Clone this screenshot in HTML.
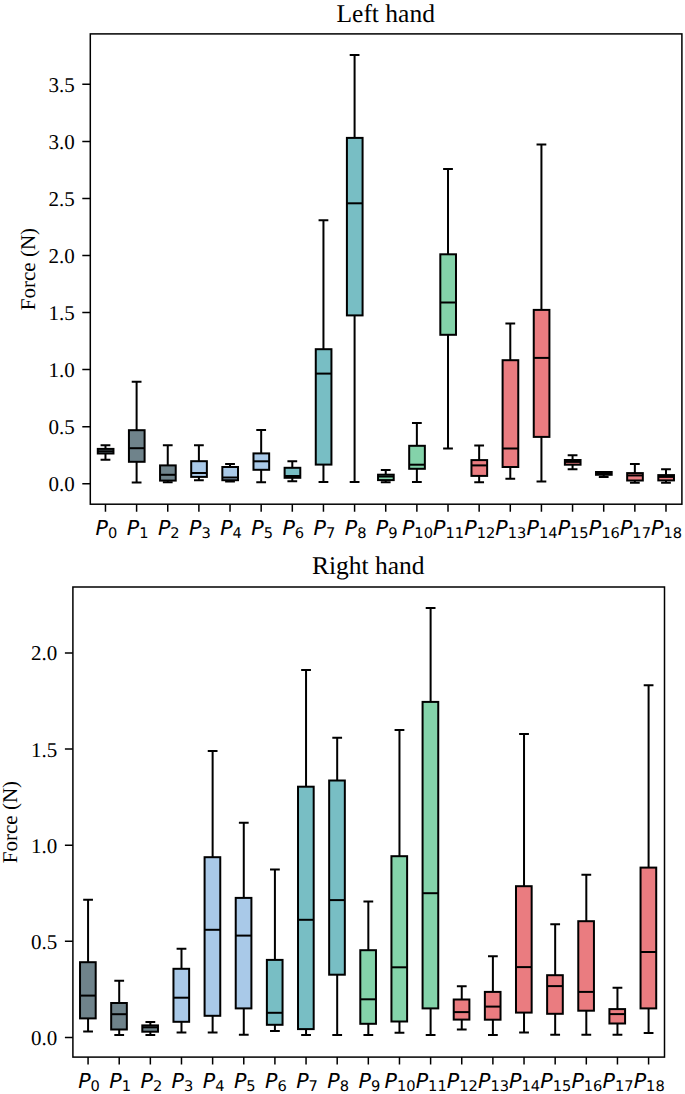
<!DOCTYPE html>
<html><head><meta charset="utf-8"><title>Force box plots</title>
<style>
html,body{margin:0;padding:0;background:#fff}
svg{display:block}
text{text-rendering:geometricPrecision}
.s{font-family:"Liberation Serif",serif;font-size:21.0px;fill:#000}
.t{font-family:"Liberation Serif",serif;font-size:25.5px;fill:#000}
.m{font-family:"DejaVu Sans",sans-serif;font-size:20.6px;fill:#000}
.i{font-style:italic}
.sub{font-size:14.63px}
</style></head><body>
<svg width="685" height="1094" viewBox="0 0 685 1094">
<rect width="685" height="1094" fill="#fff"/>
<g stroke="#000" stroke-width="2.0" fill="none">
<rect x="97.79" y="448.9" width="15.67" height="4.6" fill="#6F838B"/>
<path d="M105.47 448.9V445.2M105.47 453.5V459.8"/>
<path stroke-linecap="square" d="M101.58 445.2H109.36M101.58 459.8H109.36"/>
<path d="M97.79 451.3H113.45"/>
</g>
<g stroke="#000" stroke-width="2.0" fill="none">
<rect x="128.93" y="430.2" width="15.67" height="31.6" fill="#6F838B"/>
<path d="M136.61 430.2V381.7M136.61 461.8V482.4"/>
<path stroke-linecap="square" d="M132.72 381.7H140.5M132.72 482.4H140.5"/>
<path d="M128.93 448.2H144.6"/>
</g>
<g stroke="#000" stroke-width="2.0" fill="none">
<rect x="160.06" y="465.4" width="15.67" height="15.2" fill="#6F838B"/>
<path d="M167.75 465.4V445.2M167.75 480.6V482.2"/>
<path stroke-linecap="square" d="M163.86 445.2H171.64M163.86 482.2H171.64"/>
<path d="M160.06 474.8H175.74"/>
</g>
<g stroke="#000" stroke-width="2.0" fill="none">
<rect x="191.2" y="461.2" width="15.67" height="15.7" fill="#A9C9E8"/>
<path d="M198.89 461.2V445.2M198.89 476.9V480.3"/>
<path stroke-linecap="square" d="M195 445.2H202.78M195 480.3H202.78"/>
<path d="M191.2 473H206.88"/>
</g>
<g stroke="#000" stroke-width="2.0" fill="none">
<rect x="222.34" y="467" width="15.67" height="13.2" fill="#A9C9E8"/>
<path d="M230.03 467V463.9M230.03 480.2V481.6"/>
<path stroke-linecap="square" d="M226.14 463.9H233.92M226.14 481.6H233.92"/>
<path d="M222.34 477.5H238.02"/>
</g>
<g stroke="#000" stroke-width="2.0" fill="none">
<rect x="253.48" y="453.4" width="15.67" height="16.4" fill="#A9C9E8"/>
<path d="M261.17 453.4V430M261.17 469.8V482.2"/>
<path stroke-linecap="square" d="M257.28 430H265.06M257.28 482.2H265.06"/>
<path d="M253.48 461.3H269.15"/>
</g>
<g stroke="#000" stroke-width="2.0" fill="none">
<rect x="284.62" y="467.8" width="15.67" height="10" fill="#78BEC4"/>
<path d="M292.31 467.8V461.3M292.31 477.8V481.3"/>
<path stroke-linecap="square" d="M288.42 461.3H296.2M288.42 481.3H296.2"/>
<path d="M284.62 476H300.29"/>
</g>
<g stroke="#000" stroke-width="2.0" fill="none">
<rect x="315.77" y="349.2" width="15.67" height="115.4" fill="#78BEC4"/>
<path d="M323.45 349.2V220.3M323.45 464.6V481.9"/>
<path stroke-linecap="square" d="M319.56 220.3H327.34M319.56 481.9H327.34"/>
<path d="M315.77 373.6H331.44"/>
</g>
<g stroke="#000" stroke-width="2.0" fill="none">
<rect x="346.91" y="137.9" width="15.67" height="177.5" fill="#78BEC4"/>
<path d="M354.59 137.9V54.9M354.59 315.4V481.9"/>
<path stroke-linecap="square" d="M350.7 54.9H358.48M350.7 481.9H358.48"/>
<path d="M346.91 203.3H362.57"/>
</g>
<g stroke="#000" stroke-width="2.0" fill="none">
<rect x="378.05" y="474.7" width="15.67" height="5.4" fill="#84D3AA"/>
<path d="M385.73 474.7V470.1M385.73 480.1V482.2"/>
<path stroke-linecap="square" d="M381.84 470.1H389.62M381.84 482.2H389.62"/>
<path d="M378.05 476.5H393.71"/>
</g>
<g stroke="#000" stroke-width="2.0" fill="none">
<rect x="409.19" y="445.8" width="15.67" height="23" fill="#84D3AA"/>
<path d="M416.87 445.8V423.1M416.87 468.8V482.1"/>
<path stroke-linecap="square" d="M412.98 423.1H420.76M412.98 482.1H420.76"/>
<path d="M409.19 464.7H424.85"/>
</g>
<g stroke="#000" stroke-width="2.0" fill="none">
<rect x="440.32" y="254.3" width="15.67" height="80.5" fill="#84D3AA"/>
<path d="M448.01 254.3V169M448.01 334.8V448.5"/>
<path stroke-linecap="square" d="M444.12 169H451.9M444.12 448.5H451.9"/>
<path d="M440.32 302.5H455.99"/>
</g>
<g stroke="#000" stroke-width="2.0" fill="none">
<rect x="471.46" y="460.1" width="15.67" height="15.8" fill="#EA7C80"/>
<path d="M479.15 460.1V445.5M479.15 475.9V482.2"/>
<path stroke-linecap="square" d="M475.26 445.5H483.04M475.26 482.2H483.04"/>
<path d="M471.46 465.4H487.13"/>
</g>
<g stroke="#000" stroke-width="2.0" fill="none">
<rect x="502.6" y="360.2" width="15.67" height="106.8" fill="#EA7C80"/>
<path d="M510.29 360.2V323.5M510.29 467V478.8"/>
<path stroke-linecap="square" d="M506.4 323.5H514.18M506.4 478.8H514.18"/>
<path d="M502.6 448.5H518.27"/>
</g>
<g stroke="#000" stroke-width="2.0" fill="none">
<rect x="533.75" y="309.9" width="15.67" height="127" fill="#EA7C80"/>
<path d="M541.43 309.9V144.6M541.43 436.9V481.5"/>
<path stroke-linecap="square" d="M537.54 144.6H545.32M537.54 481.5H545.32"/>
<path d="M533.75 357.9H549.42"/>
</g>
<g stroke="#000" stroke-width="2.0" fill="none">
<rect x="564.88" y="460" width="15.67" height="4.7" fill="#EA7C80"/>
<path d="M572.57 460V455.2M572.57 464.7V469.3"/>
<path stroke-linecap="square" d="M568.68 455.2H576.46M568.68 469.3H576.46"/>
<path d="M564.88 461.9H580.56"/>
</g>
<g stroke="#000" stroke-width="2.0" fill="none">
<rect x="596.02" y="472" width="15.67" height="2.8" fill="#EA7C80"/>
<path d="M603.71 472V472.2M603.71 474.8V477"/>
<path stroke-linecap="square" d="M599.82 472.2H607.6M599.82 477H607.6"/>
<path d="M596.02 473.4H611.7"/>
</g>
<g stroke="#000" stroke-width="2.0" fill="none">
<rect x="627.16" y="473.1" width="15.67" height="7.4" fill="#EA7C80"/>
<path d="M634.85 473.1V463.9M634.85 480.5V482.8"/>
<path stroke-linecap="square" d="M630.96 463.9H638.74M630.96 482.8H638.74"/>
<path d="M627.16 475.45H642.84"/>
</g>
<g stroke="#000" stroke-width="2.0" fill="none">
<rect x="658.3" y="475.1" width="15.67" height="5.3" fill="#EA7C80"/>
<path d="M665.99 475.1V469.2M665.99 480.4V482.8"/>
<path stroke-linecap="square" d="M662.1 469.2H669.88M662.1 482.8H669.88"/>
<path d="M658.3 476.9H673.98"/>
</g>
<path d="M105.47 504.2v7.5M136.61 504.2v7.5M167.75 504.2v7.5M198.89 504.2v7.5M230.03 504.2v7.5M261.17 504.2v7.5M292.31 504.2v7.5M323.45 504.2v7.5M354.59 504.2v7.5M385.73 504.2v7.5M416.87 504.2v7.5M448.01 504.2v7.5M479.15 504.2v7.5M510.29 504.2v7.5M541.43 504.2v7.5M572.57 504.2v7.5M603.71 504.2v7.5M634.85 504.2v7.5M665.99 504.2v7.5M90.3 483.7h-8M90.3 426.65h-8M90.3 369.6h-8M90.3 312.55h-8M90.3 255.5h-8M90.3 198.45h-8M90.3 141.4h-8M90.3 84.35h-8" stroke="#000" stroke-width="1.5" fill="none"/>
<rect x="90.3" y="33.9" width="591.6" height="470.3" fill="none" stroke="#000" stroke-width="1.5"/>
<text class="s" x="74.7" y="491.1" text-anchor="end">0.0</text>
<text class="s" x="74.7" y="434.05" text-anchor="end">0.5</text>
<text class="s" x="74.7" y="377" text-anchor="end">1.0</text>
<text class="s" x="74.7" y="319.95" text-anchor="end">1.5</text>
<text class="s" x="74.7" y="262.9" text-anchor="end">2.0</text>
<text class="s" x="74.7" y="205.85" text-anchor="end">2.5</text>
<text class="s" x="74.7" y="148.8" text-anchor="end">3.0</text>
<text class="s" x="74.7" y="91.75" text-anchor="end">3.5</text>
<text class="m" x="106.47" y="534.9" text-anchor="middle"><tspan class="i">P</tspan><tspan class="sub" dy="3.0">0</tspan></text>
<text class="m" x="137.61" y="534.9" text-anchor="middle"><tspan class="i">P</tspan><tspan class="sub" dy="3.0">1</tspan></text>
<text class="m" x="168.75" y="534.9" text-anchor="middle"><tspan class="i">P</tspan><tspan class="sub" dy="3.0">2</tspan></text>
<text class="m" x="199.89" y="534.9" text-anchor="middle"><tspan class="i">P</tspan><tspan class="sub" dy="3.0">3</tspan></text>
<text class="m" x="231.03" y="534.9" text-anchor="middle"><tspan class="i">P</tspan><tspan class="sub" dy="3.0">4</tspan></text>
<text class="m" x="262.17" y="534.9" text-anchor="middle"><tspan class="i">P</tspan><tspan class="sub" dy="3.0">5</tspan></text>
<text class="m" x="293.31" y="534.9" text-anchor="middle"><tspan class="i">P</tspan><tspan class="sub" dy="3.0">6</tspan></text>
<text class="m" x="324.45" y="534.9" text-anchor="middle"><tspan class="i">P</tspan><tspan class="sub" dy="3.0">7</tspan></text>
<text class="m" x="355.59" y="534.9" text-anchor="middle"><tspan class="i">P</tspan><tspan class="sub" dy="3.0">8</tspan></text>
<text class="m" x="386.73" y="534.9" text-anchor="middle"><tspan class="i">P</tspan><tspan class="sub" dy="3.0">9</tspan></text>
<text class="m" x="417.47" y="534.9" text-anchor="middle"><tspan class="i">P</tspan><tspan class="sub" dy="3.0">10</tspan></text>
<text class="m" x="448.61" y="534.9" text-anchor="middle"><tspan class="i">P</tspan><tspan class="sub" dy="3.0">11</tspan></text>
<text class="m" x="479.75" y="534.9" text-anchor="middle"><tspan class="i">P</tspan><tspan class="sub" dy="3.0">12</tspan></text>
<text class="m" x="510.89" y="534.9" text-anchor="middle"><tspan class="i">P</tspan><tspan class="sub" dy="3.0">13</tspan></text>
<text class="m" x="542.03" y="534.9" text-anchor="middle"><tspan class="i">P</tspan><tspan class="sub" dy="3.0">14</tspan></text>
<text class="m" x="573.17" y="534.9" text-anchor="middle"><tspan class="i">P</tspan><tspan class="sub" dy="3.0">15</tspan></text>
<text class="m" x="604.31" y="534.9" text-anchor="middle"><tspan class="i">P</tspan><tspan class="sub" dy="3.0">16</tspan></text>
<text class="m" x="635.45" y="534.9" text-anchor="middle"><tspan class="i">P</tspan><tspan class="sub" dy="3.0">17</tspan></text>
<text class="m" x="666.59" y="534.9" text-anchor="middle"><tspan class="i">P</tspan><tspan class="sub" dy="3.0">18</tspan></text>
<text class="s" transform="translate(34.9 269.05) rotate(-90)" text-anchor="middle">Force (N)</text>
<text class="t" x="385.7" y="21.8" text-anchor="middle">Left hand</text>
<g stroke="#000" stroke-width="2.0" fill="none">
<rect x="80.03" y="962.2" width="15.67" height="56.2" fill="#6F838B"/>
<path d="M88.07 962.2V899.7M88.07 1018.4V1031.4"/>
<path stroke-linecap="square" d="M84.18 899.7H91.96M84.18 1031.4H91.96"/>
<path d="M80.03 995.6H95.7"/>
</g>
<g stroke="#000" stroke-width="2.0" fill="none">
<rect x="111.17" y="1003" width="15.67" height="26.5" fill="#6F838B"/>
<path d="M119.21 1003V980.8M119.21 1029.5V1034.9"/>
<path stroke-linecap="square" d="M115.32 980.8H123.1M115.32 1034.9H123.1"/>
<path d="M111.17 1014.2H126.84"/>
</g>
<g stroke="#000" stroke-width="2.0" fill="none">
<rect x="142.31" y="1025.4" width="15.67" height="6.3" fill="#6F838B"/>
<path d="M150.35 1025.4V1021.9M150.35 1031.7V1034.9"/>
<path stroke-linecap="square" d="M146.46 1021.9H154.24M146.46 1034.9H154.24"/>
<path d="M142.31 1027.3H157.99"/>
</g>
<g stroke="#000" stroke-width="2.0" fill="none">
<rect x="173.46" y="968.8" width="15.67" height="53" fill="#A9C9E8"/>
<path d="M181.49 968.8V948.7M181.49 1021.8V1032.6"/>
<path stroke-linecap="square" d="M177.6 948.7H185.38M177.6 1032.6H185.38"/>
<path d="M173.46 997.7H189.13"/>
</g>
<g stroke="#000" stroke-width="2.0" fill="none">
<rect x="204.59" y="857.2" width="15.67" height="158.6" fill="#A9C9E8"/>
<path d="M212.63 857.2V751.1M212.63 1015.8V1032.4"/>
<path stroke-linecap="square" d="M208.74 751.1H216.52M208.74 1032.4H216.52"/>
<path d="M204.59 929.8H220.27"/>
</g>
<g stroke="#000" stroke-width="2.0" fill="none">
<rect x="235.73" y="897.9" width="15.67" height="110.5" fill="#A9C9E8"/>
<path d="M243.77 897.9V822.7M243.77 1008.4V1034.8"/>
<path stroke-linecap="square" d="M239.88 822.7H247.66M239.88 1034.8H247.66"/>
<path d="M235.73 935.6H251.41"/>
</g>
<g stroke="#000" stroke-width="2.0" fill="none">
<rect x="266.88" y="959.9" width="15.67" height="64.9" fill="#78BEC4"/>
<path d="M274.91 959.9V869.5M274.91 1024.8V1031"/>
<path stroke-linecap="square" d="M271.02 869.5H278.8M271.02 1031H278.8"/>
<path d="M266.88 1012.8H282.54"/>
</g>
<g stroke="#000" stroke-width="2.0" fill="none">
<rect x="298.02" y="786.7" width="15.67" height="242.4" fill="#78BEC4"/>
<path d="M306.05 786.7V670.1M306.05 1029.1V1035"/>
<path stroke-linecap="square" d="M302.16 670.1H309.94M302.16 1035H309.94"/>
<path d="M298.02 919.8H313.69"/>
</g>
<g stroke="#000" stroke-width="2.0" fill="none">
<rect x="329.16" y="780.5" width="15.67" height="194.2" fill="#78BEC4"/>
<path d="M337.19 780.5V737.8M337.19 974.7V1035"/>
<path stroke-linecap="square" d="M333.3 737.8H341.08M333.3 1035H341.08"/>
<path d="M329.16 900.1H344.82"/>
</g>
<g stroke="#000" stroke-width="2.0" fill="none">
<rect x="360.3" y="950.2" width="15.67" height="73.6" fill="#84D3AA"/>
<path d="M368.33 950.2V901.6M368.33 1023.8V1035"/>
<path stroke-linecap="square" d="M364.44 901.6H372.22M364.44 1035H372.22"/>
<path d="M360.3 999.3H375.96"/>
</g>
<g stroke="#000" stroke-width="2.0" fill="none">
<rect x="391.44" y="856.2" width="15.67" height="165.3" fill="#84D3AA"/>
<path d="M399.47 856.2V730M399.47 1021.5V1032.8"/>
<path stroke-linecap="square" d="M395.58 730H403.36M395.58 1032.8H403.36"/>
<path d="M391.44 967.3H407.1"/>
</g>
<g stroke="#000" stroke-width="2.0" fill="none">
<rect x="422.58" y="701.9" width="15.67" height="306.5" fill="#84D3AA"/>
<path d="M430.61 701.9V608.1M430.61 1008.4V1034.9"/>
<path stroke-linecap="square" d="M426.72 608.1H434.5M426.72 1034.9H434.5"/>
<path d="M422.58 893.2H438.25"/>
</g>
<g stroke="#000" stroke-width="2.0" fill="none">
<rect x="453.72" y="999.5" width="15.67" height="20.1" fill="#EA7C80"/>
<path d="M461.75 999.5V986.2M461.75 1019.6V1029.5"/>
<path stroke-linecap="square" d="M457.86 986.2H465.64M457.86 1029.5H465.64"/>
<path d="M453.72 1012.1H469.38"/>
</g>
<g stroke="#000" stroke-width="2.0" fill="none">
<rect x="484.86" y="991.9" width="15.67" height="27.8" fill="#EA7C80"/>
<path d="M492.89 991.9V956.3M492.89 1019.7V1035"/>
<path stroke-linecap="square" d="M489 956.3H496.78M489 1035H496.78"/>
<path d="M484.86 1006.6H500.52"/>
</g>
<g stroke="#000" stroke-width="2.0" fill="none">
<rect x="515.99" y="886.2" width="15.67" height="126.4" fill="#EA7C80"/>
<path d="M524.03 886.2V733.9M524.03 1012.6V1032.5"/>
<path stroke-linecap="square" d="M520.14 733.9H527.92M520.14 1032.5H527.92"/>
<path d="M515.99 967.1H531.66"/>
</g>
<g stroke="#000" stroke-width="2.0" fill="none">
<rect x="547.13" y="975.2" width="15.67" height="38.6" fill="#EA7C80"/>
<path d="M555.17 975.2V924.2M555.17 1013.8V1034.7"/>
<path stroke-linecap="square" d="M551.28 924.2H559.06M551.28 1034.7H559.06"/>
<path d="M547.13 986.1H562.81"/>
</g>
<g stroke="#000" stroke-width="2.0" fill="none">
<rect x="578.27" y="921.2" width="15.67" height="89.5" fill="#EA7C80"/>
<path d="M586.31 921.2V874.8M586.31 1010.7V1034.8"/>
<path stroke-linecap="square" d="M582.42 874.8H590.2M582.42 1034.8H590.2"/>
<path d="M578.27 991.9H593.94"/>
</g>
<g stroke="#000" stroke-width="2.0" fill="none">
<rect x="609.41" y="1009.1" width="15.67" height="14.4" fill="#EA7C80"/>
<path d="M617.45 1009.1V987.7M617.45 1023.5V1034.8"/>
<path stroke-linecap="square" d="M613.56 987.7H621.34M613.56 1034.8H621.34"/>
<path d="M609.41 1014.1H625.09"/>
</g>
<g stroke="#000" stroke-width="2.0" fill="none">
<rect x="640.55" y="867.6" width="15.67" height="140.8" fill="#EA7C80"/>
<path d="M648.59 867.6V685.3M648.59 1008.4V1033"/>
<path stroke-linecap="square" d="M644.7 685.3H652.48M644.7 1033H652.48"/>
<path d="M640.55 952H656.22"/>
</g>
<path d="M88.07 1057.1v7.5M119.21 1057.1v7.5M150.35 1057.1v7.5M181.49 1057.1v7.5M212.63 1057.1v7.5M243.77 1057.1v7.5M274.91 1057.1v7.5M306.05 1057.1v7.5M337.19 1057.1v7.5M368.33 1057.1v7.5M399.47 1057.1v7.5M430.61 1057.1v7.5M461.75 1057.1v7.5M492.89 1057.1v7.5M524.03 1057.1v7.5M555.17 1057.1v7.5M586.31 1057.1v7.5M617.45 1057.1v7.5M648.59 1057.1v7.5M72.9 1037.4h-8M72.9 941.3h-8M72.9 845.2h-8M72.9 749.1h-8M72.9 653h-8" stroke="#000" stroke-width="1.5" fill="none"/>
<rect x="72.9" y="587" width="591.6" height="470.1" fill="none" stroke="#000" stroke-width="1.5"/>
<text class="s" x="57.3" y="1044.8" text-anchor="end">0.0</text>
<text class="s" x="57.3" y="948.7" text-anchor="end">0.5</text>
<text class="s" x="57.3" y="852.6" text-anchor="end">1.0</text>
<text class="s" x="57.3" y="756.5" text-anchor="end">1.5</text>
<text class="s" x="57.3" y="660.4" text-anchor="end">2.0</text>
<text class="m" x="89.07" y="1087.7" text-anchor="middle"><tspan class="i">P</tspan><tspan class="sub" dy="3.0">0</tspan></text>
<text class="m" x="120.21" y="1087.7" text-anchor="middle"><tspan class="i">P</tspan><tspan class="sub" dy="3.0">1</tspan></text>
<text class="m" x="151.35" y="1087.7" text-anchor="middle"><tspan class="i">P</tspan><tspan class="sub" dy="3.0">2</tspan></text>
<text class="m" x="182.49" y="1087.7" text-anchor="middle"><tspan class="i">P</tspan><tspan class="sub" dy="3.0">3</tspan></text>
<text class="m" x="213.63" y="1087.7" text-anchor="middle"><tspan class="i">P</tspan><tspan class="sub" dy="3.0">4</tspan></text>
<text class="m" x="244.77" y="1087.7" text-anchor="middle"><tspan class="i">P</tspan><tspan class="sub" dy="3.0">5</tspan></text>
<text class="m" x="275.91" y="1087.7" text-anchor="middle"><tspan class="i">P</tspan><tspan class="sub" dy="3.0">6</tspan></text>
<text class="m" x="307.05" y="1087.7" text-anchor="middle"><tspan class="i">P</tspan><tspan class="sub" dy="3.0">7</tspan></text>
<text class="m" x="338.19" y="1087.7" text-anchor="middle"><tspan class="i">P</tspan><tspan class="sub" dy="3.0">8</tspan></text>
<text class="m" x="369.33" y="1087.7" text-anchor="middle"><tspan class="i">P</tspan><tspan class="sub" dy="3.0">9</tspan></text>
<text class="m" x="400.07" y="1087.7" text-anchor="middle"><tspan class="i">P</tspan><tspan class="sub" dy="3.0">10</tspan></text>
<text class="m" x="431.21" y="1087.7" text-anchor="middle"><tspan class="i">P</tspan><tspan class="sub" dy="3.0">11</tspan></text>
<text class="m" x="462.35" y="1087.7" text-anchor="middle"><tspan class="i">P</tspan><tspan class="sub" dy="3.0">12</tspan></text>
<text class="m" x="493.49" y="1087.7" text-anchor="middle"><tspan class="i">P</tspan><tspan class="sub" dy="3.0">13</tspan></text>
<text class="m" x="524.63" y="1087.7" text-anchor="middle"><tspan class="i">P</tspan><tspan class="sub" dy="3.0">14</tspan></text>
<text class="m" x="555.77" y="1087.7" text-anchor="middle"><tspan class="i">P</tspan><tspan class="sub" dy="3.0">15</tspan></text>
<text class="m" x="586.91" y="1087.7" text-anchor="middle"><tspan class="i">P</tspan><tspan class="sub" dy="3.0">16</tspan></text>
<text class="m" x="618.05" y="1087.7" text-anchor="middle"><tspan class="i">P</tspan><tspan class="sub" dy="3.0">17</tspan></text>
<text class="m" x="649.19" y="1087.7" text-anchor="middle"><tspan class="i">P</tspan><tspan class="sub" dy="3.0">18</tspan></text>
<text class="s" transform="translate(17.2 822.05) rotate(-90)" text-anchor="middle">Force (N)</text>
<text class="t" x="368.3" y="573.7" text-anchor="middle">Right hand</text>
</svg>
</body></html>
